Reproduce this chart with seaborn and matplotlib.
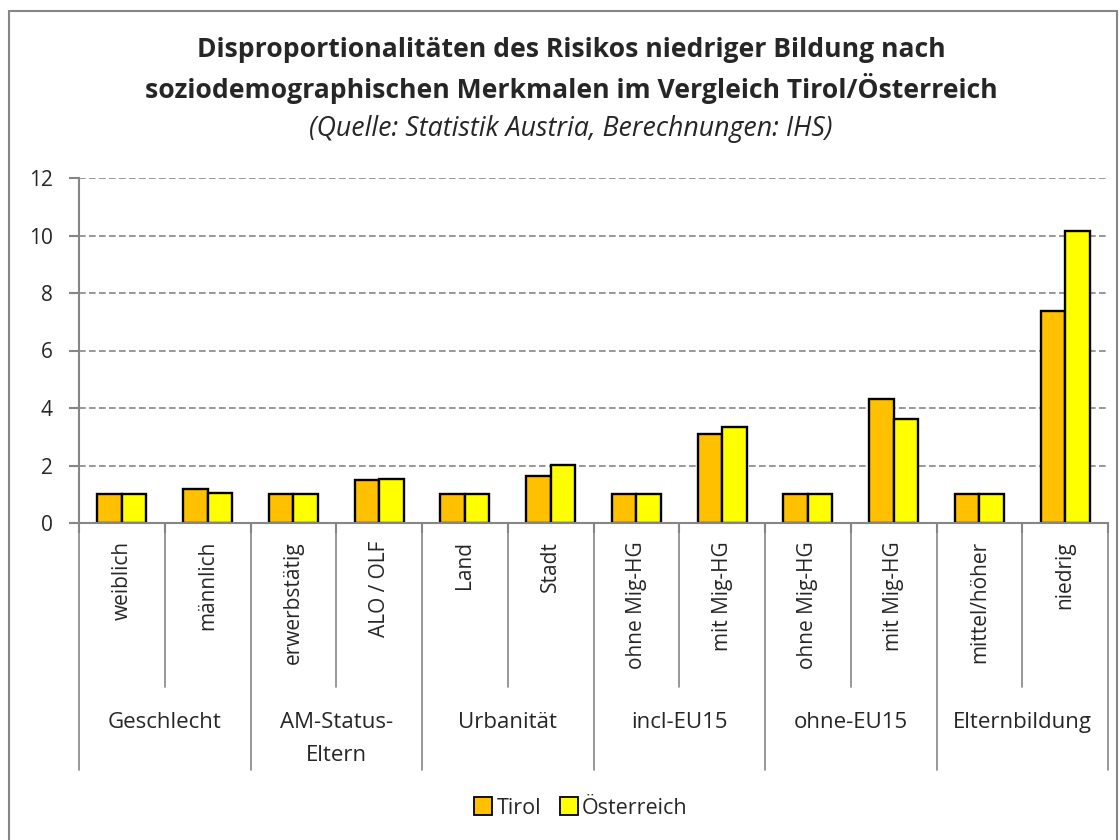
import matplotlib
matplotlib.use("Agg")
import matplotlib.pyplot as plt
from matplotlib.patches import Rectangle
from matplotlib.lines import Line2D
import seaborn as sns
import pandas as pd
import numpy as np

# ---- data ----
groups = ["Geschlecht", "AM-Status-\nEltern", "Urbanität", "incl-EU15", "ohne-EU15", "Elternbildung"]
subcats = ["weiblich", "männlich", "erwerbstätig", "ALO / OLF", "Land", "Stadt",
           "ohne Mig-HG", "mit Mig-HG", "ohne Mig-HG", "mit Mig-HG", "mittel/höher", "niedrig"]
tirol = [1.0, 1.20, 1.0, 1.51, 1.0, 1.64, 1.0, 3.10, 1.0, 4.31, 1.0, 7.39]
oesterreich = [1.0, 1.06, 1.0, 1.54, 1.0, 2.03, 1.0, 3.34, 1.0, 3.62, 1.0, 10.14]
series = ["Tirol", "Österreich"]
yticks = [0, 2, 4, 6, 8, 10, 12]

keys = [f"{i:02d}" for i in range(len(subcats))]
df = pd.DataFrame({
    "key": keys * 2,
    "Region": [series[0]] * len(keys) + [series[1]] * len(keys),
    "Wert": tirol + oesterreich,
})

sns.set_style("white")
plt.rcParams["font.family"] = ["Open Sans", "DejaVu Sans"]

fig = plt.figure(figsize=(11.2, 8.4), dpi=100)
W, H = 1120, 840
ax = fig.add_axes([79 / W, 1 - 523 / H, (1108 - 79) / W, 345 / H])

palette = {"Tirol": "#FFC000", "Österreich": "#FFFF00"}
sns.barplot(data=df, x="key", y="Wert", hue="Region", order=keys, hue_order=series,
            palette=palette, width=0.57, edgecolor="black", linewidth=1.7,
            saturation=1, ax=ax, legend=False)

gray = "#868686"
ax.set_ylim(0, 12)
ax.set_xlim(-0.5, len(keys) - 0.5)
ax.set_yticks(yticks)
ax.set_yticklabels([str(v) for v in yticks], fontsize=15)
ax.yaxis.grid(True, linestyle=(0, (4, 2)), color=gray, linewidth=1.2)
ax.set_axisbelow(True)
ax.set_xlabel("")
ax.set_ylabel("")
for s in ["top", "right"]:
    ax.spines[s].set_visible(False)
for s in ["left", "bottom"]:
    ax.spines[s].set_color(gray)
    ax.spines[s].set_linewidth(1.5)
ax.tick_params(axis="y", length=7, width=1.5, color=gray, direction="out", pad=12, left=True)

ax.set_xticks(range(len(keys)))
ax.set_xticklabels(subcats, rotation=90, fontsize=15)
ax.tick_params(axis="x", length=0, pad=13)
ax.set_xticks(np.arange(-0.5, len(keys), 1), minor=True)
ax.tick_params(axis="x", which="minor", length=7, width=1.5, color=gray, direction="out", bottom=True)

tr = ax.get_xaxis_transform()
px = 1 / 345.0
for b in np.arange(-0.5, len(keys), 1):
    if int(b + 0.5) % 2 == 0:
        y_end = -(770 - 523) * px
    else:
        y_end = -(687 - 523) * px
    ax.plot([b, b], [0, y_end], transform=tr, color=gray, lw=1.2, clip_on=False)

for gi, g in enumerate(groups):
    for li, line in enumerate(g.split("\n")):
        ax.text(gi * 2 + 0.5, -(728 + 33 * li - 523) * px, line, transform=tr,
                ha="center", va="baseline", fontsize=16)

handles = [Line2D([0], [0], marker="s", linestyle="none", markersize=13,
                  markerfacecolor=palette[s], markeredgecolor="black", markeredgewidth=1.3)
           for s in series]
ax.legend(handles, series, loc="center", bbox_to_anchor=(0.487, -(808 - 523) * px),
          ncol=2, frameon=False, prop={"size": 15.5},
          handletextpad=0.1, columnspacing=0.8, handlelength=1.0)

xc = 571 / W
fig.text(xc, 1 - 50 / H, "Disproportionalitäten des Risikos niedriger Bildung nach",
         ha="center", va="center", fontsize=19.1, fontweight="bold")
fig.text(xc, 1 - 89 / H, "soziodemographischen Merkmalen im Vergleich Tirol/Österreich",
         ha="center", va="center", fontsize=19.1, fontweight="bold")
fig.text(xc, 1 - 129 / H, "(Quelle: Statistik Austria, Berechnungen: IHS)",
         ha="center", va="center", fontsize=19.3, style="italic")

fig.patches.append(Rectangle((9 / W, -0.05), (1117 - 9) / W, 1.05 - 11 / H,
                             transform=fig.transFigure, fill=False, edgecolor=gray, lw=1.5))

fig.savefig("out.png", dpi=100)
